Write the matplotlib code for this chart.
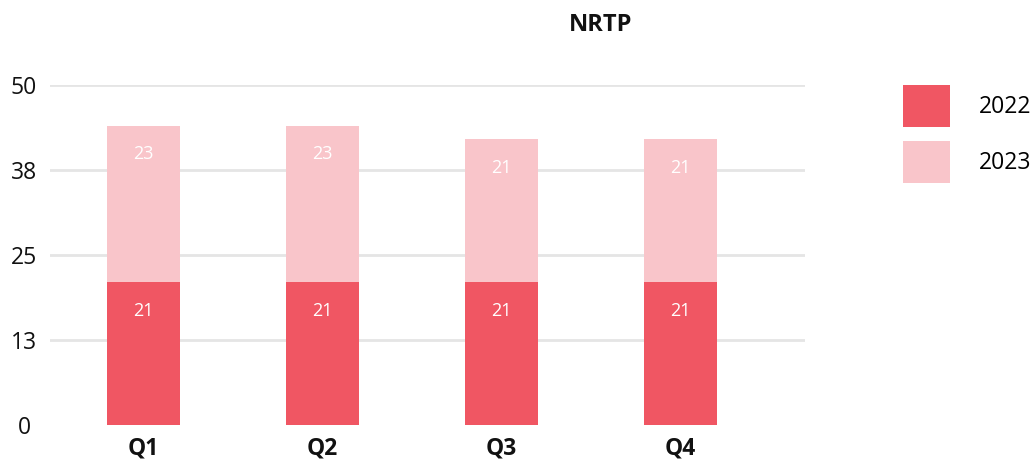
import matplotlib
matplotlib.use("Agg")
import matplotlib.pyplot as plt
import numpy as np

plt.rcParams['font.family'] = ['Open Sans', 'DejaVu Sans']

categories = ["Q1", "Q2", "Q3", "Q4"]
series_names = ["2022", "2023"]
values_2022 = [21, 21, 21, 21]
values_2023 = [23, 23, 21, 21]
y_ticks = [0, 12.5, 25, 37.5, 50]
y_tick_labels = ["0", "13", "25", "38", "50"]
title = "NRTP"

color_2022 = "#F05663"
color_2023 = "#F9C5CA"
grid_color = "#E5E5E5"

W, H = 1035, 461
fig = plt.figure(figsize=(W / 100, H / 100), dpi=100)
ax = fig.add_axes([50 / W, (H - 425) / H, 755 / W, 340 / H])

x = np.arange(len(categories))
bw = 0.41
b1 = ax.bar(x, values_2022, width=bw, color=color_2022, label=series_names[0], zorder=2)
b2 = ax.bar(x, values_2023, width=bw, bottom=values_2022, color=color_2023,
            label=series_names[1], zorder=2)

for bars, bottoms, vals in ((b1, [0] * 4, values_2022), (b2, values_2022, values_2023)):
    for xi, b, v in zip(x, bottoms, vals):
        ax.annotate(str(v), (xi, b + v), xytext=(0, -20.5), textcoords="offset points",
                    ha="center", va="center", color="white", fontsize=13, zorder=3)

ax.set_ylim(0, 50)
ax.set_xlim(-0.522, 3.695)
ax.set_yticks(y_ticks)
ax.set_yticklabels(y_tick_labels, fontsize=16.5, color="#111111")
for lbl in ax.get_yticklabels():
    lbl.set_horizontalalignment("center")
ax.tick_params(axis="y", length=0, pad=18.7)
ax.set_xticks(x)
ax.set_xticklabels(categories, fontsize=16.5, fontweight="bold", color="#111111")
ax.tick_params(axis="x", length=0, pad=8)
ax.grid(axis="y", color=grid_color, linewidth=2, zorder=0)
ax.get_ygridlines()[0].set_visible(False)
for s in ax.spines.values():
    s.set_visible(False)

fig.text(601 / W, 1 - 25 / H, title, ha="center", va="center", fontsize=17,
         fontweight="bold", color="#111111")

fig.legend(handles=[b1, b2], labels=series_names, loc="upper left",
           bbox_to_anchor=(903 / W, 1 - 85 / H), frameon=False, fontsize=16.5,
           borderpad=0, borderaxespad=0, handlelength=2.07, handleheight=2.44,
           labelspacing=0.6, handletextpad=1.25)

fig.savefig("out.png", dpi=100)
